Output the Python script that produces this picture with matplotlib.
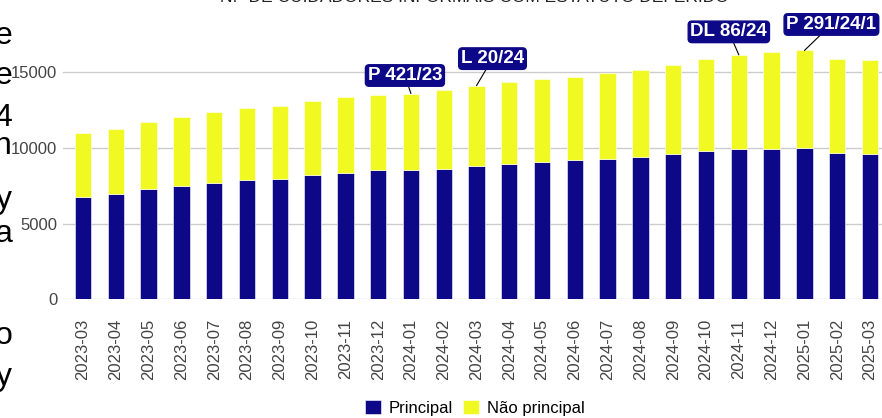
import matplotlib.pyplot as plt
import numpy as np

plt.rcParams['font.family'] = ['Liberation Sans', 'DejaVu Sans']

months = ['2023-03', '2023-04', '2023-05', '2023-06', '2023-07', '2023-08', '2023-09',
          '2023-10', '2023-11', '2023-12', '2024-01', '2024-02', '2024-03', '2024-04',
          '2024-05', '2024-06', '2024-07', '2024-08', '2024-09', '2024-10', '2024-11',
          '2024-12', '2025-01', '2025-02', '2025-03']
principal = [6750, 6950, 7260, 7460, 7680, 7880, 7970, 8190, 8360, 8500, 8540, 8630,
             8800, 8910, 9050, 9160, 9290, 9420, 9580, 9800, 9910, 9950, 9960, 9670, 9600]
total = [10970, 11250, 11720, 12000, 12330, 12620, 12750, 13090, 13350, 13500, 13580, 13790,
         14100, 14320, 14540, 14700, 14920, 15110, 15450, 15870, 16130, 16310, 16420, 15870, 15800]
nao_principal = [t - p for t, p in zip(total, principal)]

# legislation marks: (month, label)
marks = [('2024-01', 'P 421/23'), ('2024-03', 'L 20/24'),
         ('2024-11', 'DL 86/24'), ('2025-01', 'P 291/24/1')]
mark_offsets = [(-6, 18), (16, 27), (-10, 23), (27, 26)]  # pixels from bar top

BLUE = '#0d0887'
YELLOW = '#f0f921'

fig = plt.figure(figsize=(8.82, 4.18), dpi=100)
ax = fig.add_axes([63 / 882, 118.7 / 418, 819 / 882, 299.3 / 418])

x = np.arange(len(months))
b1 = ax.bar(x, principal, width=0.5, color=BLUE, edgecolor='white', linewidth=0.4, zorder=2)
b2 = ax.bar(x, nao_principal, bottom=principal, width=0.5, color=YELLOW,
            edgecolor='white', linewidth=0.4, zorder=2)

ax.set_xlim(-0.61, len(months) - 1 + 0.366)
ax.set_ylim(0, 19750)
ax.set_yticks([0, 5000, 10000, 15000])
ax.set_xticks(x)
ax.set_xticklabels(months, rotation=90)
ax.tick_params(axis='both', length=0, labelsize=12, labelcolor='#444444')
ax.tick_params(axis='x', pad=14)
ax.tick_params(axis='y', pad=4)
ax.grid(axis='y', color='#cccccc', linewidth=1, zorder=0)
for s in ax.spines.values():
    s.set_visible(False)

for (m, lab), (dx, dy) in zip(marks, mark_offsets):
    i = months.index(m)
    ax.annotate(lab, xy=(i, total[i]), xytext=(dx, dy), textcoords='offset pixels',
                ha='center', va='center', color='white', fontsize=13.5, fontweight='bold',
                bbox=dict(boxstyle='round,pad=0.12,rounding_size=0.2', fc=BLUE, ec=BLUE),
                arrowprops=dict(arrowstyle='-', color='black', lw=0.8, shrinkA=0, shrinkB=0),
                annotation_clip=False, zorder=5)

fig.text(474.5 / 882, (418 - 2.5) / 418, 'N.º DE CUIDADORES INFORMAIS COM ESTATUTO DEFERIDO',
         ha='center', va='baseline', fontsize=12.5, color='#222222')

# cut-off text from the neighbouring column
for ch, yy in [('e', 36), ('e', 76), ('4', 118), ('n', 146), ('y', 200), ('a', 234),
               ('o', 336), ('y', 377)]:
    fig.text(12 / 882, 1 - yy / 418, ch, ha='right', va='center', fontsize=23, color='black')

fig.legend([b1, b2], ['Principal', 'Não principal'], loc='center',
           bbox_to_anchor=(475 / 882, 10 / 418), ncol=2, frameon=False, fontsize=12,
           handlelength=0.95, handleheight=0.9, handletextpad=0.5, columnspacing=0.6,
           borderpad=0)

fig.savefig('out.png', dpi=100)
